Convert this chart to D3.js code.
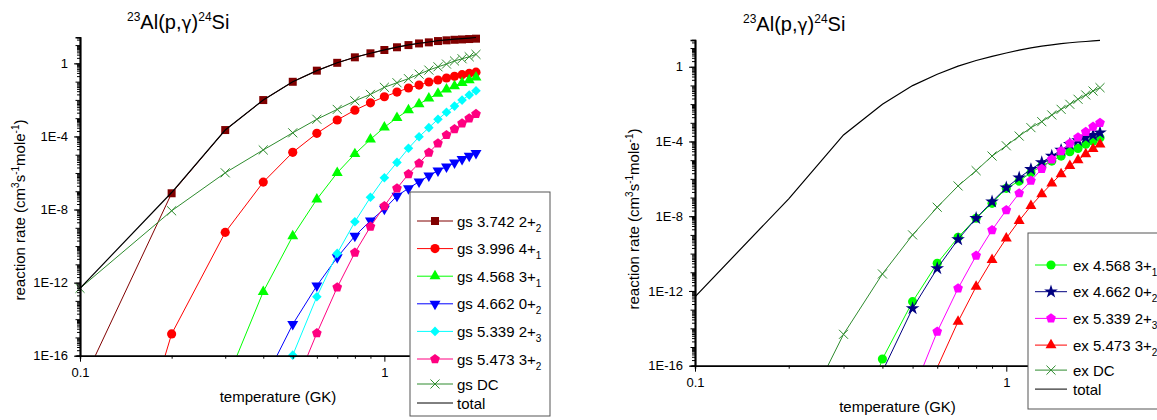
<!DOCTYPE html>
<html>
<head>
<meta charset="utf-8">
<script src="https://d3js.org/d3.v7.min.js"></script>
<style>
  body { margin: 0; background: #fff; }
  svg { font-family: "Liberation Sans", Arial, sans-serif; }
</style>
</head>
<body>
<div id="chart"></div>
<script>
// temperature grid (GK)
const temps = [0.1, 0.2, 0.3, 0.4, 0.5, 0.6, 0.7, 0.8, 0.9, 1.0, 1.1, 1.2, 1.3, 1.4, 1.5, 1.6, 1.7, 1.8, 1.9, 2.0];

// left panel: capture from the ground state (cm^3 s^-1 mole^-1)
const gs3742 = [1.66e-18, 7.76e-8, 2.24e-4, 9.8e-3, 9.8e-2, 0.398, 1.07, 2.14, 3.55, 5.37, 7.59, 10.0, 12.3, 14.1, 16.6, 18.2, 19.5, 20.4, 21.4, 22.4];
const gs3996 = [3.2e-32, 1.55e-15, 5.62e-10, 3.16e-7, 1.35e-5, 1.48e-4, 7.94e-4, 2.75e-3, 6.92e-3, 1.48e-2, 2.69e-2, 4.47e-2, 6.46e-2, 9.55e-2, 0.123, 0.158, 0.195, 0.240, 0.282, 0.331];
const gs4568 = [null, null, 2.75e-18, 3.16e-13, 3.55e-10, 3.63e-8, 1.02e-6, 1.10e-5, 6.92e-5, 3.16e-4, 1.05e-3, 2.75e-3, 5.89e-3, 1.20e-2, 2.19e-2, 3.80e-2, 5.75e-2, 8.71e-2, 0.123, 0.170];
const gs4662 = [null, null, null, 3.24e-18, 5.25e-15, 6.76e-13, 2.40e-11, 3.55e-10, 2.45e-9, 1.07e-8, 5.50e-8, 1.45e-7, 3.31e-7, 7.08e-7, 1.32e-6, 2.19e-6, 3.63e-6, 5.75e-6, 8.51e-6, 1.20e-5];
const gs5339 = [null, null, null, null, 1.07e-16, 1.70e-13, 3.98e-11, 2.14e-9, 4.68e-8, 5.50e-7, 3.80e-6, 2.24e-5, 9.55e-5, 3.02e-4, 8.71e-4, 2.09e-3, 4.57e-3, 9.77e-3, 1.86e-2, 3.16e-2];
const gs5473 = [null, null, null, null, 1.10e-18, 1.70e-15, 5.50e-13, 4.37e-11, 1.15e-9, 1.55e-8, 1.45e-7, 8.71e-7, 3.39e-6, 1.29e-5, 4.17e-5, 1.20e-4, 2.51e-4, 5.25e-4, 9.77e-4, 1.70e-3];
const gsDC = [4.90e-13, 8.51e-9, 1.02e-6, 1.82e-5, 1.58e-4, 8.71e-4, 3.02e-3, 8.91e-3, 2.0e-2, 4.90e-2, 8.71e-2, 0.145, 0.257, 0.427, 0.646, 0.912, 1.35, 1.78, 2.29, 3.09];

// total rate (same curve in both panels)
const total = [4.90e-13, 8.51e-8, 2.24e-4, 9.8e-3, 9.8e-2, 0.40, 1.08, 2.15, 3.57, 5.43, 7.70, 10.2, 12.6, 14.7, 17.4, 19.3, 21.1, 22.5, 24.1, 26.0];

// right panel: capture from excited states
const ex4568 = [null, null, 4.0e-22, 2.29e-16, 2.69e-13, 3.02e-11, 7.41e-10, 7.76e-9, 4.90e-8, 3.09e-7, 7.59e-7, 2.14e-6, 4.90e-6, 8.91e-6, 1.66e-5, 2.82e-5, 4.27e-5, 7.08e-5, 1.05e-4, 1.58e-4];
const ex4662 = [null, null, null, 4.90e-17, 1.17e-13, 1.62e-11, 5.75e-10, 7.76e-9, 6.03e-8, 3.39e-7, 1.15e-6, 3.24e-6, 7.59e-6, 1.66e-5, 3.47e-5, 7.08e-5, 1.15e-4, 1.62e-4, 2.19e-4, 2.95e-4];
const ex5339 = [null, null, null, null, 3.55e-18, 6.61e-15, 1.38e-12, 7.76e-11, 1.82e-9, 2.14e-8, 1.70e-7, 7.94e-7, 3.39e-6, 1.12e-5, 3.09e-5, 7.94e-5, 1.66e-4, 3.31e-4, 6.17e-4, 1.0e-3];
const ex5473 = [null, null, null, null, 1.0e-20, 7.94e-17, 2.29e-14, 1.70e-12, 4.57e-11, 6.61e-10, 5.75e-9, 3.55e-8, 1.55e-7, 5.75e-7, 1.82e-6, 5.01e-6, 1.02e-5, 2.14e-5, 3.98e-5, 7.08e-5];
const exDC = [null, 6.3e-21, 4.79e-15, 8.13e-12, 1.0e-9, 3.02e-8, 4.17e-7, 2.75e-6, 1.66e-5, 5.89e-5, 1.95e-4, 5.50e-4, 1.15e-3, 2.63e-3, 5.25e-3, 9.77e-3, 1.82e-2, 3.09e-2, 5.01e-2, 7.59e-2];

// legend labels: [text, subscript]
const gsLabels = [["gs 3.742 2+", "2"], ["gs 3.996 4+", "1"], ["gs 4.568 3+", "1"], ["gs 4.662 0+", "2"], ["gs 5.339 2+", "3"], ["gs 5.473 3+", "2"], ["gs DC", ""], ["total", ""]];
const exLabels = [["ex 4.568 3+", "1"], ["ex 4.662 0+", "2"], ["ex 5.339 2+", "3"], ["ex 5.473 3+", "2"], ["ex DC", ""], ["total", ""]];

// axis ticks
const yLabelTicks = [1e-16, 1e-12, 1e-8, 1e-4, 1];
const xLabelTicks = [0.1, 1];
const xMinorTicks = [0.2, 0.3, 0.4, 0.5, 0.6, 0.7, 0.8, 0.9, 2];

const width = 1157, height = 420;
const svg = d3.select("#chart").append("svg")
    .attr("width", width)
    .attr("height", height);

// pentagon marker for d3.symbol
const symbolPentagon = {
    draw(context, size) {
        const r = Math.sqrt(size / 2.378);
        for (let i = 0; i < 5; i++) {
            const a = -Math.PI / 2 + i * 2 * Math.PI / 5;
            if (i === 0) context.moveTo(r * Math.cos(a), r * Math.sin(a));
            else context.lineTo(r * Math.cos(a), r * Math.sin(a));
        }
        context.closePath();
    }
};

const markers = {
    square: { type: d3.symbolSquare, size: 64, rot: 0 },
    circle: { type: d3.symbolCircle, size: 66, rot: 0 },
    triUp: { type: d3.symbolTriangle, size: 52, rot: 0 },
    triDown: { type: d3.symbolTriangle, size: 52, rot: 180 },
    diamond: { type: d3.symbolSquare, size: 46, rot: 45 },
    pentagon: { type: symbolPentagon, size: 62, rot: 0 },
    star: { type: d3.symbolStar, size: 58, rot: 0 },
    cross: { type: d3.symbolX, size: 55, rot: 0, stroke: true }
};

const panels = [
    {
        id: "gs", left: 80, right: 476, top: 37.2, bottom: 355.7,
        titleX: 127, titleY: 28.5, yTitleX: 25, yTitleY: 210, xTitleY: 401.5,
        legend: { x: 410, y: 192, w: 140, h: 224, first: 29, gap: 27.6, lineX: 417, lineW: 36, textX: 457 },
        labels: gsLabels,
        series: [
            { values: gs3742, color: "#800000", marker: "square" },
            { values: gs3996, color: "#ff0000", marker: "circle" },
            { values: gs4568, color: "#00ff00", marker: "triUp" },
            { values: gs4662, color: "#0000ff", marker: "triDown" },
            { values: gs5339, color: "#00ffff", marker: "diamond" },
            { values: gs5473, color: "#ff0080", marker: "pentagon" },
            { values: gsDC, color: "#2e8b2e", marker: "cross" },
            { values: total, color: "#000000", marker: null }
        ]
    },
    {
        id: "ex", left: 695, right: 1100, top: 40, bottom: 365.7,
        titleX: 743, titleY: 30.5, yTitleX: 639, yTitleY: 219, xTitleY: 411.5,
        legend: { x: 1028, y: 233, w: 140, h: 176, first: 32, gap: 26.7, lineX: 1035, lineW: 32, textX: 1073 },
        labels: exLabels,
        series: [
            { values: ex4568, color: "#00ff00", marker: "circle" },
            { values: ex4662, color: "#000080", marker: "star" },
            { values: ex5339, color: "#ff00ff", marker: "pentagon" },
            { values: ex5473, color: "#ff0000", marker: "triUp" },
            { values: exDC, color: "#2e8b2e", marker: "cross" },
            { values: total, color: "#000000", marker: null }
        ]
    }
];

// draw one marker glyph into a selection
function applyMarker(sel, name, color) {
    const m = markers[name];
    sel.attr("d", d3.symbol(m.type, m.size))
        .attr("fill", m.stroke ? "none" : color)
        .attr("stroke", m.stroke ? color : "none")
        .attr("stroke-width", 1);
}

function drawPanel(p) {
    const x = d3.scaleLog().domain([0.1, 2]).range([p.left, p.right]);
    const y = d3.scaleLog().domain([1e-16, 27]).range([p.bottom, p.top]);

    const clipId = "clip-" + p.id;
    svg.append("clipPath").attr("id", clipId)
        .append("rect")
        .attr("x", p.left).attr("y", p.top - 20)
        .attr("width", p.right - p.left + 2)
        .attr("height", p.bottom - p.top + 20);

    const g = svg.append("g");
    const line = d3.line().x(d => x(d.t)).y(d => y(d.v));

    p.series.forEach(s => {
        const pts = temps.map((t, i) => ({ t: t, v: s.values[i] })).filter(d => d.v != null);
        g.append("path")
            .datum(pts)
            .attr("clip-path", `url(#${clipId})`)
            .attr("fill", "none")
            .attr("stroke", s.color)
            .attr("stroke-width", s.marker ? 1 : 1.2)
            .attr("d", line);
        if (s.marker) {
            const rot = markers[s.marker].rot;
            g.selectAll(null)
                .data(pts.filter(d => d.v >= 0.95e-16))
                .enter()
                .append("path")
                .attr("transform", d => `translate(${x(d.t)},${y(d.v)}) rotate(${rot})`)
                .call(applyMarker, s.marker, s.color);
        }
    });

    // y axis: decade ticks, minor ticks, labelled ticks
    const decades = d3.range(-16, 2).map(n => Math.pow(10, n));
    const minors = [];
    decades.forEach(d => { for (let k = 2; k <= 9; k++) if (k * d <= 27) minors.push(k * d); });

    svg.append("g").attr("transform", `translate(${p.left},0)`)
        .call(d3.axisLeft(y).tickValues(minors).tickSize(3).tickFormat(""));
    svg.append("g").attr("transform", `translate(${p.left},0)`)
        .call(d3.axisLeft(y).tickValues(decades).tickSize(4.5).tickFormat(""));
    svg.append("g").attr("transform", `translate(${p.left},0)`)
        .call(d3.axisLeft(y).tickValues(yLabelTicks).tickSize(6).tickSizeOuter(0).tickPadding(6)
            .tickFormat(v => v === 1 ? "1" : "1E" + Math.round(Math.log10(v))));

    // x axis
    svg.append("g").attr("transform", `translate(0,${p.bottom})`)
        .call(d3.axisBottom(x).tickValues(xMinorTicks).tickSize(3).tickFormat(""));
    svg.append("g").attr("transform", `translate(0,${p.bottom})`)
        .call(d3.axisBottom(x).tickValues(xLabelTicks).tickSize(6).tickSizeOuter(0).tickPadding(6)
            .tickFormat(d3.format("")));

    svg.selectAll(".tick text").attr("font-size", 13).attr("font-family", "Liberation Sans, Arial, sans-serif").attr("fill", "#000");
    svg.selectAll(".domain").attr("stroke-width", 1.5);
    svg.selectAll(".tick line").attr("stroke-width", 1);

    // title
    const title = svg.append("text").attr("x", p.titleX).attr("y", p.titleY).attr("font-size", 20);
    title.append("tspan").attr("font-size", 12).attr("dy", -8).text("23");
    title.append("tspan").attr("dy", 8).text("Al(p,");
    title.append("tspan").attr("font-family", "DejaVu Sans").attr("font-size", 17).text("\u03b3");
    title.append("tspan").text(")");
    title.append("tspan").attr("font-size", 12).attr("dy", -8).text("24");
    title.append("tspan").attr("dy", 8).text("Si");

    // axis titles
    svg.append("text")
        .attr("x", (p.left + p.right) / 2).attr("y", p.xTitleY)
        .attr("text-anchor", "middle").attr("font-size", 15)
        .text("temperature (GK)");

    const yt = svg.append("text")
        .attr("transform", `translate(${p.yTitleX},${p.yTitleY}) rotate(-90)`)
        .attr("text-anchor", "middle").attr("font-size", 15);
    yt.append("tspan").text("reaction rate (cm");
    yt.append("tspan").attr("font-size", 10).attr("dy", -6).text("3");
    yt.append("tspan").attr("dy", 6).text("s");
    yt.append("tspan").attr("font-size", 10).attr("dy", -6).text("-1");
    yt.append("tspan").attr("dy", 6).text("mole");
    yt.append("tspan").attr("font-size", 10).attr("dy", -6).text("-1");
    yt.append("tspan").attr("dy", 6).text(")");

    // legend
    const L = p.legend;
    const lg = svg.append("g");
    lg.append("rect")
        .attr("x", L.x).attr("y", L.y).attr("width", L.w).attr("height", L.h)
        .attr("fill", "#fff").attr("stroke", "#555").attr("stroke-width", 1);

    let ry = L.y + L.first;
    p.series.forEach((s, i) => {
        const lab = p.labels[i];
        if (i > 0) ry += lab[0] === "total" ? 19 : (lab[1] === "" ? 25 : L.gap);
        lg.append("line")
            .attr("x1", L.lineX).attr("x2", L.lineX + L.lineW)
            .attr("y1", ry).attr("y2", ry)
            .attr("stroke", s.color).attr("stroke-width", 1);
        if (s.marker) {
            lg.append("path")
                .attr("transform", `translate(${L.lineX + L.lineW / 2},${ry}) rotate(${markers[s.marker].rot})`)
                .call(applyMarker, s.marker, s.color);
        }
        const t = lg.append("text").attr("x", L.textX).attr("y", ry + 5.5).attr("font-size", 15);
        t.append("tspan").text(lab[0]);
        if (lab[1]) t.append("tspan").attr("font-size", 10).attr("dy", 5).text(lab[1]);
    });
}

panels.forEach(drawPanel);
</script>
</body>
</html>
